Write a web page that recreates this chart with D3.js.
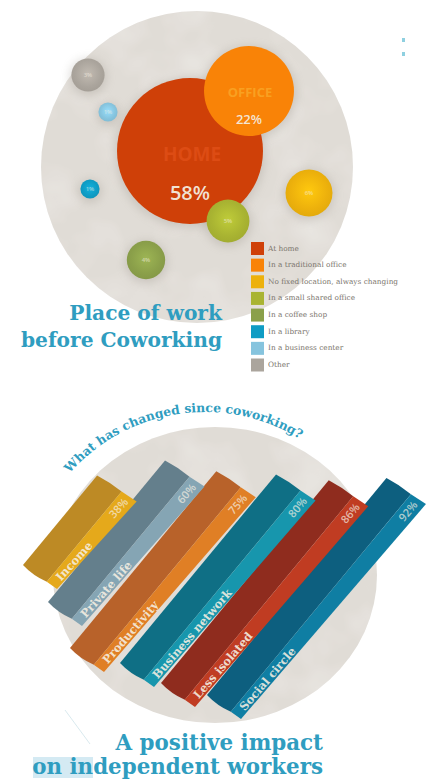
<!DOCTYPE html>
<html>
<head>
<meta charset="utf-8">
<script src="https://cdn.jsdelivr.net/npm/d3@7"></script>
<style>
  html, body { margin: 0; padding: 0; background: #fff; }
  svg { display: block; }
</style>
</head>
<body>
<svg id="chart" width="426" height="782"></svg>
<script>
// Place of work before coworking
const placeLabels = ["At home", "In a traditional office", "No fixed location, always changing",
  "In a small shared office", "In a coffee shop", "In a library", "In a business center", "Other"];
const placeValues = [58, 22, 6, 5, 4, 1, 1, 3];
const placeColors = ["#cf4008", "#f98307", "#edb10c", "#a9b432", "#8ba04a", "#0f9cc4", "#86c4de", "#aba59d"];

// What has changed since coworking
const changeLabels = ["Income", "Private life", "Productivity", "Business network", "Less isolated", "Social circle"];
const changeValues = [38, 60, 75, 80, 86, 92];
const changeDark = ["#bd8a25", "#647f8c", "#b8622a", "#0f6f85", "#8f2c1e", "#0d5f7f"];
const changeLight = ["#e5a91b", "#85a5b4", "#e07f25", "#1796ad", "#c03c22", "#0f7ea3"];

const svg = d3.select("#chart");
const defs = svg.append("defs");
const teal = "#2f9dc0";
const slab = "'DejaVu Serif', serif";

// Soft shadow shared by every bubble
const soft = defs.append("filter").attr("id", "soft")
  .attr("x", "-30%").attr("y", "-30%").attr("width", "160%").attr("height", "160%");
soft.append("feGaussianBlur").attr("stdDeviation", 5);

// Mottled paper texture on the backdrop discs
const paper = defs.append("filter").attr("id", "paper")
  .attr("x", "0").attr("y", "0").attr("width", "100%").attr("height", "100%");
paper.append("feTurbulence").attr("type", "fractalNoise").attr("baseFrequency", 0.018)
  .attr("numOctaves", 3).attr("seed", 7).attr("result", "n");
paper.append("feColorMatrix").attr("in", "n").attr("type", "matrix")
  .attr("values", "0 0 0 0 1  0 0 0 0 1  0 0 0 0 1  0.6 0 0 0 -0.25").attr("result", "w");
paper.append("feComposite").attr("in", "w").attr("in2", "SourceAlpha").attr("operator", "in").attr("result", "c");
const merge = paper.append("feMerge");
merge.append("feMergeNode").attr("in", "SourceGraphic");
merge.append("feMergeNode").attr("in", "c");

// ---- Upper panel: bubbles ----
const radius = d3.scaleSqrt().domain([0, 58]).range([0, 73]);
const bubbleCentres = [[190, 151], [249, 91], [309, 193], [228, 221], [146, 260], [90, 189], [108, 112], [88, 75]];

svg.append("circle").attr("cx", 197).attr("cy", 167).attr("r", 156)
  .attr("fill", "#e0dcd6").attr("filter", "url(#paper)");

const bubbles = placeValues.map((v, i) => ({
  value: v, color: placeColors[i], x: bubbleCentres[i][0], y: bubbleCentres[i][1], r: radius(v)
}));

placeColors.forEach((c, i) => {
  const g = defs.append("radialGradient").attr("id", "ball" + i)
    .attr("cx", "50%").attr("cy", "46%").attr("r", "55%");
  g.append("stop").attr("offset", "0%").attr("stop-color", d3.color(c).brighter(i < 2 ? 0 : 0.35));
  g.append("stop").attr("offset", "70%").attr("stop-color", c);
  g.append("stop").attr("offset", "100%").attr("stop-color", d3.color(c).darker(i < 2 ? 0 : 0.12));
});

const bubbleG = svg.append("g");
bubbleG.selectAll("circle.shadow").data(bubbles).join("circle").attr("class", "shadow")
  .attr("cx", d => d.x).attr("cy", d => d.y + 2).attr("r", d => d.r + 2)
  .attr("fill", "#8d867c").attr("opacity", 0.28).attr("filter", "url(#soft)");
bubbleG.selectAll("circle.ball").data(bubbles).join("circle").attr("class", "ball")
  .attr("cx", d => d.x).attr("cy", d => d.y).attr("r", d => d.r)
  .attr("fill", (d, i) => `url(#ball${i})`);

// Percent labels inside the bubbles
bubbleG.selectAll("text.val").data(bubbles).join("text").attr("class", "val")
  .attr("text-anchor", "middle").attr("font-family", "'Open Sans', sans-serif")
  .attr("fill", "#f4ede0").attr("fill-opacity", (d, i) => i < 2 ? 0.95 : 0.6)
  .attr("font-weight", 600)
  .attr("font-size", (d, i) => i === 0 ? 20 : i === 1 ? 13 : 6)
  .attr("x", d => d.x)
  .attr("y", (d, i) => i === 0 ? d.y + 49 : i === 1 ? d.y + 33 : d.y + 2)
  .text(d => d.value + "%");

bubbleG.append("text").attr("x", 192).attr("y", 161).attr("text-anchor", "middle")
  .attr("font-family", "'Open Sans', sans-serif").attr("font-weight", 700).attr("font-size", 19)
  .attr("fill", "#dd4c14").text("HOME");
bubbleG.append("text").attr("x", 250).attr("y", 97).attr("text-anchor", "middle")
  .attr("font-family", "'Open Sans', sans-serif").attr("font-weight", 700).attr("font-size", 13)
  .attr("fill", "#f9a021").text("OFFICE");

// Legend
const legendRow = d3.scalePoint().domain(placeLabels).range([248.5, 365]);
const legend = svg.append("g").selectAll("g").data(placeLabels).join("g")
  .attr("transform", d => `translate(251,${legendRow(d)})`);
legend.append("rect").attr("y", -6.5).attr("width", 13).attr("height", 13)
  .attr("fill", (d, i) => placeColors[i]);
legend.append("text").attr("x", 17).attr("y", 2).attr("font-family", slab)
  .attr("font-size", 7.35).attr("fill", "#7a746c").text(d => d);

// Panel title
const title1 = svg.append("g").attr("font-family", slab).attr("font-weight", 700).attr("fill", teal)
  .attr("text-anchor", "end");
title1.append("text").attr("x", 222).attr("y", 320).attr("font-size", 20.2).text("Place of work");
title1.append("text").attr("x", 222).attr("y", 347).attr("font-size", 20.2).text("before Coworking");

// Small stray marks at the top right
svg.append("g").selectAll("rect").data([38, 52]).join("rect")
  .attr("x", 402).attr("y", d => d).attr("width", 3).attr("height", 4).attr("fill", "#8fd0e0");

// ---- Lower panel: slanted bars ----
svg.append("ellipse").attr("cx", 215).attr("cy", 575).attr("rx", 162).attr("ry", 148)
  .attr("fill", "#e0dcd6").attr("filter", "url(#paper)");

// Curved panel question
defs.append("path").attr("id", "questionArc")
  .attr("d", d3.arc()({ innerRadius: 180, outerRadius: 180, startAngle: -0.85, endAngle: 0.8 }))
  .attr("transform", "translate(205,592)");
svg.append("text").attr("font-family", slab).attr("font-weight", 700).attr("font-size", 12.4)
  .attr("fill", teal)
  .append("textPath").attr("href", "#questionArc").attr("startOffset", 0)
  .text("What has changed since coworking?");

const length = d3.scaleLinear().domain([0, 100]).range([0, 306]);
const angle = 50.4;
const rad = angle * Math.PI / 180;
const along = [Math.cos(rad), -Math.sin(rad)];
// Each bar narrows toward its lower end
const acrossLow = [34, 24], acrossHigh = [39.5, 26];
const splitLow = 0.7, splitHigh = 0.62;
const barBases = [[23, 565], [48, 602], [70, 648], [120, 663], [161, 683], [207, 695]];

const bars = changeValues.map((v, i) => ({
  value: v, label: changeLabels[i], dark: changeDark[i], light: changeLight[i],
  base: barBases[i], len: length(v)
}));

// Position on a bar: a runs along it, b runs across it from the dark edge (0) to the lit edge (1)
const pt = (d, a, b) => {
  const t = a / d.len;
  return [
    d.base[0] + along[0] * a + (acrossLow[0] + (acrossHigh[0] - acrossLow[0]) * t) * b,
    d.base[1] + along[1] * a + (acrossLow[1] + (acrossHigh[1] - acrossLow[1]) * t) * b
  ];
};

const darkFace = d => {
  const p = d3.path();
  const s0 = pt(d, 0, 0), s1 = pt(d, 0, splitLow), e0 = pt(d, d.len, 0), e1 = pt(d, d.len, splitHigh);
  const cs = pt(d, -3, splitLow / 2), ce = pt(d, d.len + 1.5, splitHigh / 2);
  p.moveTo(s0[0], s0[1]);
  p.quadraticCurveTo(cs[0], cs[1], s1[0], s1[1]);
  p.lineTo(e1[0], e1[1]);
  p.quadraticCurveTo(ce[0], ce[1], e0[0], e0[1]);
  p.closePath();
  return p.toString();
};
const lightFace = d => d3.line()([
  pt(d, 0, splitLow), pt(d, 0, 1), pt(d, d.len, 1), pt(d, d.len, splitHigh)
]) + "Z";

// Lit edge direction sets the slant of the bar's labels
const edgeAngle = d => {
  const a = pt(d, 0, 1), b = pt(d, d.len, 1);
  return Math.atan2(b[1] - a[1], b[0] - a[0]) * 180 / Math.PI;
};
// Text sits inset from the lit edge by the given number of pixels
const onEdge = (d, a, inset) => {
  const p = pt(d, a, 1), r = edgeAngle(d) * Math.PI / 180;
  const x = p[0] + Math.sin(r) * inset, y = p[1] - Math.cos(r) * inset;
  return `translate(${x},${y}) rotate(${edgeAngle(d)})`;
};

// Shorter bars lie on top of the longer ones behind them
const barGroups = svg.append("g").selectAll("g").data(bars.slice().reverse()).join("g");
barGroups.append("path").attr("d", darkFace).attr("fill", d => d.dark);
barGroups.append("path").attr("d", lightFace).attr("fill", d => d.light);

barGroups.append("text")
  .attr("transform", d => onEdge(d, 8, 2))
  .attr("font-family", slab).attr("font-weight", 700).attr("font-size", 11.5)
  .attr("fill", "#f5efe2").attr("fill-opacity", 0.9).text(d => d.label);
barGroups.append("text")
  .attr("transform", d => onEdge(d, d.len - 6, 5))
  .attr("text-anchor", "end")
  .attr("font-family", "'Open Sans', sans-serif").attr("font-weight", 600).attr("font-size", 11)
  .attr("fill", "#f5efe2").attr("fill-opacity", 0.7).text(d => d.value + "%");

// Lower title with the pale highlight behind its first letters
svg.append("rect").attr("x", 33).attr("y", 757).attr("width", 60).attr("height", 21).attr("fill", "#d4eaf3");
svg.append("line").attr("x1", 65).attr("y1", 710).attr("x2", 90).attr("y2", 744)
  .attr("stroke", "#cfe3ea").attr("stroke-width", 0.8);
const title2 = svg.append("g").attr("font-family", slab).attr("font-weight", 700).attr("fill", teal)
  .attr("text-anchor", "end");
title2.append("text").attr("x", 323).attr("y", 750).attr("font-size", 21.4).text("A positive impact");
title2.append("text").attr("x", 323).attr("y", 774).attr("font-size", 21.4).text("on independent workers");
</script>
</body>
</html>
